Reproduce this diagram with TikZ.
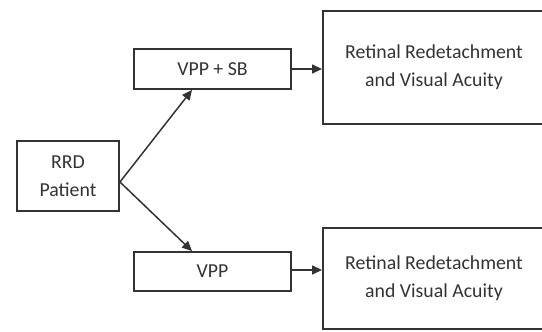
\documentclass[tikz,border=0pt]{standalone}
\usepackage{fontspec}
\setmainfont{Carlito}
\usetikzlibrary{arrows.meta}
\definecolor{linegray}{HTML}{333333}
\definecolor{textgray}{HTML}{333333}
\begin{document}
\begin{tikzpicture}[x=1pt,y=-1pt,
  box/.style={draw=linegray,line width=1.9pt,fill=white,inner sep=0pt,
    align=center,text=textgray,font=\fontsize{19.8}{28}\selectfont},
  conn/.style={draw=linegray,line width=1.5pt,-{Triangle[length=10pt,width=9pt]}}]
  \useasboundingbox (0,0) rectangle (542,332);
  \begin{scope}
  \clip (0,0) rectangle (542,332);
  % source box
  \node[box,minimum width=102pt,minimum height=70pt] (rrd) at (68,176) {RRD\\Patient};
  % the two treatment arms
  \node[box,minimum width=157pt,minimum height=40pt] (sb) at (212.5,69) {VPP + SB};
  \node[box,minimum width=157pt,minimum height=39pt] (vpp) at (212.5,271.5) {VPP};
  % outcome boxes
  \node[box,minimum width=222pt,minimum height=113pt] (out1) at (434,67.5) {Retinal Redetachment\\and Visual Acuity};
  \node[box,minimum width=222pt,minimum height=101pt] (out2) at (434,278.5) {Retinal Redetachment\\and Visual Acuity};
  % connectors
  \coordinate (split) at ([yshift=-6pt]rrd.east);
  \draw[conn] (split) -- ([xshift=-20.5pt]sb.south);
  \draw[conn] (split) -- ([xshift=-20.5pt]vpp.north);
  \draw[conn] (sb.east) -- (sb.east -| out1.west);
  \draw[conn] ([yshift=1.5pt]vpp.east) -- ([yshift=1.5pt]vpp.east -| out2.west);
  \end{scope}
\end{tikzpicture}
\end{document}
